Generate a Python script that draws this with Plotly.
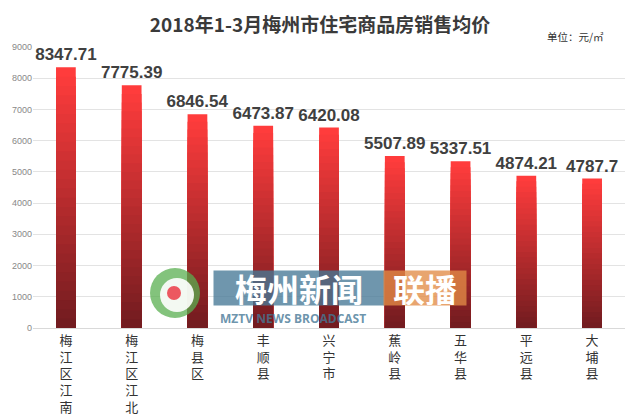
import plotly.graph_objects as go

categories = ["梅江区江南", "梅江区江北", "梅县区", "丰顺县", "兴宁市", "蕉岭县", "五华县", "平远县", "大埔县"]
prices = [8347.71, 7775.39, 6846.54, 6473.87, 6420.08, 5507.89, 5337.51, 4874.21, 4787.7]
y_ticks = [0, 1000, 2000, 3000, 4000, 5000, 6000, 7000, 8000, 9000]
title_text = "2018年1-3月梅州市住宅商品房销售均价"
unit_text = "单位：元/㎡"

vertical_labels = ["<br>".join(list(c)) for c in categories]

top_rgb = (255, 60, 60)
bot_rgb = (115, 28, 32)
N = 28

# page body has an 8px margin; figure sized to fit the 640x420 window
OFF = 8
W, H = 640 - OFF, 420 - OFF
L, R, T, B = 33 - OFF, 640 - 625, 47 - OFF, 420 - 328
PW, PH = W - L - R, H - T - B

def px(x):
    return (x - OFF - L) / PW

def py(y):
    return (H - B - (y - OFF)) / PH

fig = go.Figure()
for k in range(N):
    t = k / (N - 1)
    r = round(top_rgb[0] + (bot_rgb[0] - top_rgb[0]) * t)
    g = round(top_rgb[1] + (bot_rgb[1] - top_rgb[1]) * t)
    b = round(top_rgb[2] + (bot_rgb[2] - top_rgb[2]) * t)
    frac = 1 - k / N
    fig.add_trace(go.Bar(
        x=categories,
        y=[v * frac for v in prices],
        marker=dict(color=f"rgb({r},{g},{b})", line=dict(width=0)),
        width=0.3,
        text=[f"{v:g}" for v in prices] if k == 0 else None,
        textposition="outside" if k == 0 else None,
        constraintext="none",
        textfont=dict(family="Liberation Sans, Arial", size=17, color="#404040", weight="bold"),
        cliponaxis=False,
        showlegend=False,
        hoverinfo="skip" if k else "x+y",
    ))

fig.update_layout(
    width=W, height=H,
    barmode="overlay",
    paper_bgcolor="white", plot_bgcolor="white",
    margin=dict(l=L, r=R, t=T, b=B),
    title=dict(text=title_text, x=(320 - OFF) / W, xanchor="center", y=1 - (25 - OFF) / H, yanchor="middle",
               font=dict(family="Noto Sans CJK SC", size=19, color="#3a3a3a", weight="bold")),
    xaxis=dict(tickmode="array", tickvals=categories, ticktext=vertical_labels,
               tickfont=dict(family="Noto Sans CJK SC", size=13, color="#333"),
               showline=True, linecolor="#d9d9d9", ticks="", showgrid=False, automargin=False),
    yaxis=dict(range=[0, 9000], tickvals=y_ticks, showgrid=True, gridcolor="#e3e3e3",
               zeroline=False, tickfont=dict(family="Liberation Sans", size=9, color="#888"),
               ticks="", ticklen=0, automargin=False),
    font=dict(family="Noto Sans CJK SC"),
)

fig.add_annotation(text=unit_text, xref="paper", yref="paper",
                   x=px(606), y=py(37), xanchor="right", yanchor="middle",
                   showarrow=False, font=dict(family="Noto Sans CJK SC", size=10.5, color="#333"))

# watermark logo
fig.add_shape(type="circle", xref="paper", yref="paper",
              x0=px(150), x1=px(200), y0=py(318), y1=py(268),
              fillcolor="rgba(90,175,80,0.75)", line=dict(width=0))
fig.add_shape(type="circle", xref="paper", yref="paper",
              x0=px(160), x1=px(194), y0=py(312), y1=py(278),
              fillcolor="rgba(255,255,255,0.9)", line=dict(width=0))
fig.add_shape(type="circle", xref="paper", yref="paper",
              x0=px(167), x1=px(181), y0=py(300), y1=py(286),
              fillcolor="rgba(235,70,80,0.9)", line=dict(width=0))

fig.add_annotation(text="梅州新闻", xref="paper", yref="paper",
                   x=px(213), y=py(288), xanchor="left", yanchor="middle",
                   width=170, height=34, align="center",
                   showarrow=False, bgcolor="rgba(70,120,150,0.78)", borderpad=0,
                   font=dict(family="Noto Sans CJK SC", size=32, color="white", weight="bold"))
fig.add_annotation(text="联播", xref="paper", yref="paper",
                   x=px(383), y=py(288), xanchor="left", yanchor="middle",
                   width=82, height=34, align="center",
                   showarrow=False, bgcolor="rgba(225,140,70,0.78)", borderpad=0,
                   font=dict(family="Noto Sans CJK SC", size=32, color="white", weight="bold"))
fig.add_annotation(text="MZTV NEWS BROADCAST", xref="paper", yref="paper",
                   x=px(218), y=py(318), xanchor="left", yanchor="middle",
                   showarrow=False, font=dict(family="Open Sans", size=12, color="rgba(70,120,150,0.8)", weight="bold"))

fig.write_html("out.html")
